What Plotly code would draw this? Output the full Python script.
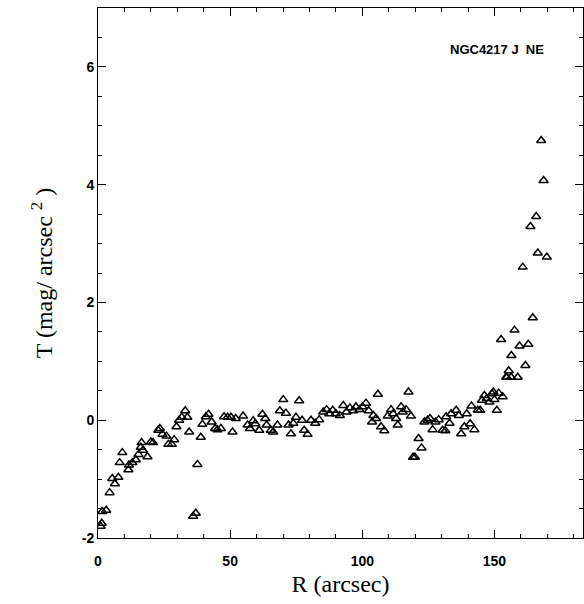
import plotly.graph_objects as go

# Radius R (arcsec) and T (mag/arcsec^2)
R = [1.0, 1.4, 1.6, 3.1, 4.4, 5.4, 6.4, 7.7, 8.2, 9.2, 11.5, 11.7, 13.0, 14.3, 15.3, 16.2,
     16.5, 17.0, 18.7, 20.0, 20.8, 22.8, 23.4, 24.4, 25.9, 26.6, 27.9, 28.8, 29.7, 30.7,
     31.7, 33.0, 33.8, 34.5, 36.0, 37.0, 37.6, 38.9, 39.5, 40.8, 41.8, 43.0, 44.3, 45.2,
     46.5, 47.7, 49.0, 50.3, 50.9, 52.1, 54.9, 56.6, 57.5, 58.7, 59.5, 61.0, 62.2, 63.3,
     63.8, 65.4, 66.3, 67.9, 68.8, 70.1, 71.1, 72.1, 73.0, 73.9, 74.9, 76.1, 77.2, 78.0,
     79.3, 80.6, 82.2, 83.7, 85.2, 86.5, 87.5, 88.8, 90.0, 91.5, 92.8, 94.0, 95.3, 96.6,
     97.6, 98.9, 100.1, 101.4, 102.4, 103.7, 104.2, 105.2, 105.9, 107.1, 108.3, 109.6,
     110.9, 111.7, 112.8, 113.4, 114.7, 115.3, 116.6, 117.5, 118.4, 119.2, 119.9, 121.3,
     122.4, 123.5, 124.7, 125.6, 126.6, 127.7, 128.9, 130.4, 131.4, 131.7, 133.0, 133.6,
     135.5, 136.5, 137.4, 138.6, 139.5, 140.8, 141.3, 142.4, 143.7, 144.6, 145.3, 146.2,
     147.1, 148.1, 149.1, 149.6, 150.0, 150.9, 151.6, 152.5, 153.1, 154.4, 154.7, 155.4,
     156.3, 156.4, 157.6, 158.8, 159.5, 160.7, 161.7, 162.8, 163.6, 164.5, 165.8, 166.4,
     167.7, 168.6, 169.8]
T = [-1.80, -1.75, -1.55, -1.53, -1.23, -0.99, -1.08, -0.97, -0.72, -0.55, -0.84, -0.76,
     -0.72, -0.67, -0.58, -0.46, -0.38, -0.51, -0.62, -0.37, -0.38, -0.17, -0.14, -0.24,
     -0.27, -0.41, -0.41, -0.33, -0.11, 0.00, 0.05, 0.16, 0.05, -0.20, -1.63, -1.58, -0.75,
     -0.29, -0.07, 0.06, 0.10, -0.03, -0.14, -0.16, -0.14, 0.06, 0.05, 0.05, -0.20, 0.03,
     0.07, -0.08, -0.14, -0.01, -0.06, -0.17, 0.10, 0.03, -0.08, -0.17, -0.20, -0.08, 0.16,
     0.35, 0.12, -0.08, -0.23, -0.05, 0.05, 0.33, 0.00, -0.17, -0.24, 0.00, -0.05, 0.01,
     0.14, 0.18, 0.11, 0.17, 0.11, 0.08, 0.25, 0.14, 0.21, 0.16, 0.23, 0.18, 0.23, 0.29,
     0.16, -0.03, 0.08, 0.03, 0.44, -0.11, -0.18, 0.07, 0.18, 0.11, 0.03, -0.08, 0.23, 0.14,
     0.18, 0.48, 0.07, -0.63, -0.63, -0.31, -0.47, -0.03, 0.00, 0.03, -0.16, -0.03, 0.01,
     -0.17, -0.18, 0.06, -0.05, 0.11, 0.17, 0.08, -0.23, -0.11, 0.11, -0.06, 0.24, -0.16,
     0.17, 0.17, 0.34, 0.42, 0.37, 0.31, 0.45, 0.48, 0.35, 0.17, 0.46, 1.37, 0.40, 0.73,
     0.73, 0.84, 0.73, 1.10, 1.53, 0.73, 1.26, 2.60, 0.93, 1.29, 3.29, 1.74, 3.46, 2.84,
     4.75, 4.07, 2.77]

X_TICKS = [0, 50, 100, 150]
Y_TICKS = [-2, 0, 2, 4, 6]
LABEL = "NGC4217 J  NE"

fig = go.Figure()
fig.add_trace(go.Scatter(
    x=R, y=T, mode="markers",
    marker=dict(symbol="triangle-up-open", size=8, color="black", line=dict(width=1.5, color="black")),
    showlegend=False,
))

fig.add_annotation(
    x=0.822, y=0.922, xref="paper", yref="paper", text=LABEL, showarrow=False,
    xanchor="center", yanchor="middle",
    font=dict(family="Liberation Sans, Arial", size=13, color="black", weight="bold"),
)

axis_common = dict(
    showgrid=False, zeroline=False, showline=True, linecolor="black", linewidth=1,
    mirror="ticks", ticks="inside", tickcolor="black", ticklen=8, tickwidth=1,
    automargin=False,
    tickfont=dict(family="Liberation Sans, Arial", size=14, color="black", weight="bold"),
)

fig.update_xaxes(
    range=[0, 183.5], tickvals=X_TICKS, ticktext=[str(v) for v in X_TICKS],
    ticklabelstandoff=10,
    minor=dict(ticks="inside", dtick=10, tick0=0, ticklen=4, tickcolor="black"),
    title=dict(text="R (arcsec)", font=dict(family="Liberation Serif, Times New Roman", size=24, color="black"), standoff=7),
    **axis_common,
)
fig.update_yaxes(
    range=[-2, 7], tickvals=Y_TICKS, ticktext=[str(v) for v in Y_TICKS],
    minor=dict(ticks="inside", dtick=0.5, tick0=0, ticklen=4, tickcolor="black"),
    title=dict(text="T (mag/ arcsec <sup>2</sup> )", font=dict(family="Liberation Serif, Times New Roman", size=24, color="black"), standoff=22),
    **axis_common,
)

fig.update_layout(
    width=584, height=604,
    margin=dict(l=98, r=1, t=8, b=66),
    plot_bgcolor="white", paper_bgcolor="white",
)

fig.write_html(
    "out.html",
    config={"displayModeBar": False},
    post_script="document.body.style.margin='0';document.body.style.overflow='hidden';",
)
